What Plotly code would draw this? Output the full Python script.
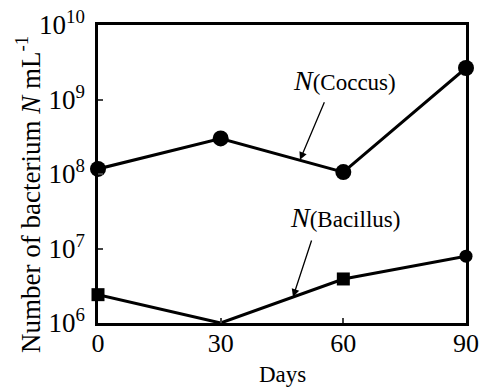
import plotly.graph_objects as go

# Sampling days and bacterial counts (cells per mL)
days = [0, 30, 60, 90]
coccus = [1.17e8, 3.0e8, 1.06e8, 2.65e9]
bacillus = [2.4e6, 1.0e6, 3.9e6, 7.9e6]

y_tickvals = [1e6, 1e7, 1e8, 1e9, 1e10]
y_ticktext = ["10<sup>6</sup>", "10<sup>7</sup>", "10<sup>8</sup>", "10<sup>9</sup>", "10<sup>10</sup>"]
x_tickvals = [0, 30, 60, 90]

FONT = "Liberation Serif"

fig = go.Figure()

fig.add_trace(go.Scatter(
    x=days, y=coccus, mode="lines+markers",
    line=dict(color="black", width=3),
    marker=dict(symbol="circle", size=16, color="black"),
    cliponaxis=False, showlegend=False,
))
fig.add_trace(go.Scatter(
    x=days, y=bacillus, mode="lines+markers",
    line=dict(color="black", width=3),
    marker=dict(symbol=["square", "circle", "square", "circle"], size=13, color="black"),
    cliponaxis=False, showlegend=False,
))

fig.update_layout(
    width=480, height=387,
    margin=dict(l=98, r=14, t=25, b=64),
    paper_bgcolor="white", plot_bgcolor="white",
    font=dict(family=FONT, size=24, color="black"),
    xaxis=dict(
        range=[0, 90], tickvals=x_tickvals, ticks="inside", ticklen=5, tickwidth=2,
        showline=True, linecolor="black", linewidth=2.5, mirror=True,
        showgrid=False, zeroline=False, automargin=False,
        ticklabelstandoff=-5,
        tickfont=dict(family=FONT, size=26),
    ),
    yaxis=dict(
        type="log", range=[6, 10], tickvals=y_tickvals, ticktext=y_ticktext,
        ticks="inside", ticklen=5, tickwidth=2,
        showline=True, linecolor="black", linewidth=2.5, mirror=True,
        showgrid=False, zeroline=False, automargin=False,
        ticklabelstandoff=5,
        tickfont=dict(family=FONT, size=27),
    ),
)

# Axis titles
fig.add_annotation(
    text="Days", xref="paper", yref="paper", x=0.5, y=-0.125,
    xanchor="center", yanchor="top", showarrow=False,
    font=dict(family=FONT, size=23),
)
fig.add_annotation(
    text="Number of bacterium <i>N</i> mL<sup>-1</sup>", xref="paper", yref="paper",
    x=-0.19, y=0.43, xanchor="center", yanchor="middle", textangle=-90,
    showarrow=False, font=dict(family=FONT, size=27),
)

# Series labels with arrows pointing at each line
fig.add_annotation(
    x=49.4, y=8.19, xref="x", yref="y",
    ax=25, ay=-59, text="",
    showarrow=True, arrowhead=2, arrowsize=1.2, arrowwidth=1.3, arrowcolor="black",
)
fig.add_annotation(
    text="<span style='font-size:28px'><i>N</i></span>(Coccus)",
    x=60.4, y=9.26, xref="x", yref="y", showarrow=False,
    xanchor="center", yanchor="middle",
    font=dict(family=FONT, size=23),
)
fig.add_annotation(
    x=47.7, y=6.35, xref="x", yref="y",
    ax=19, ay=-58, text="",
    showarrow=True, arrowhead=2, arrowsize=1.2, arrowwidth=1.3, arrowcolor="black",
)
fig.add_annotation(
    text="<span style='font-size:28px'><i>N</i></span>(Bacillus)",
    x=60.4, y=7.41, xref="x", yref="y", showarrow=False,
    xanchor="center", yanchor="middle",
    font=dict(family=FONT, size=23),
)

fig.write_html("out.html")
